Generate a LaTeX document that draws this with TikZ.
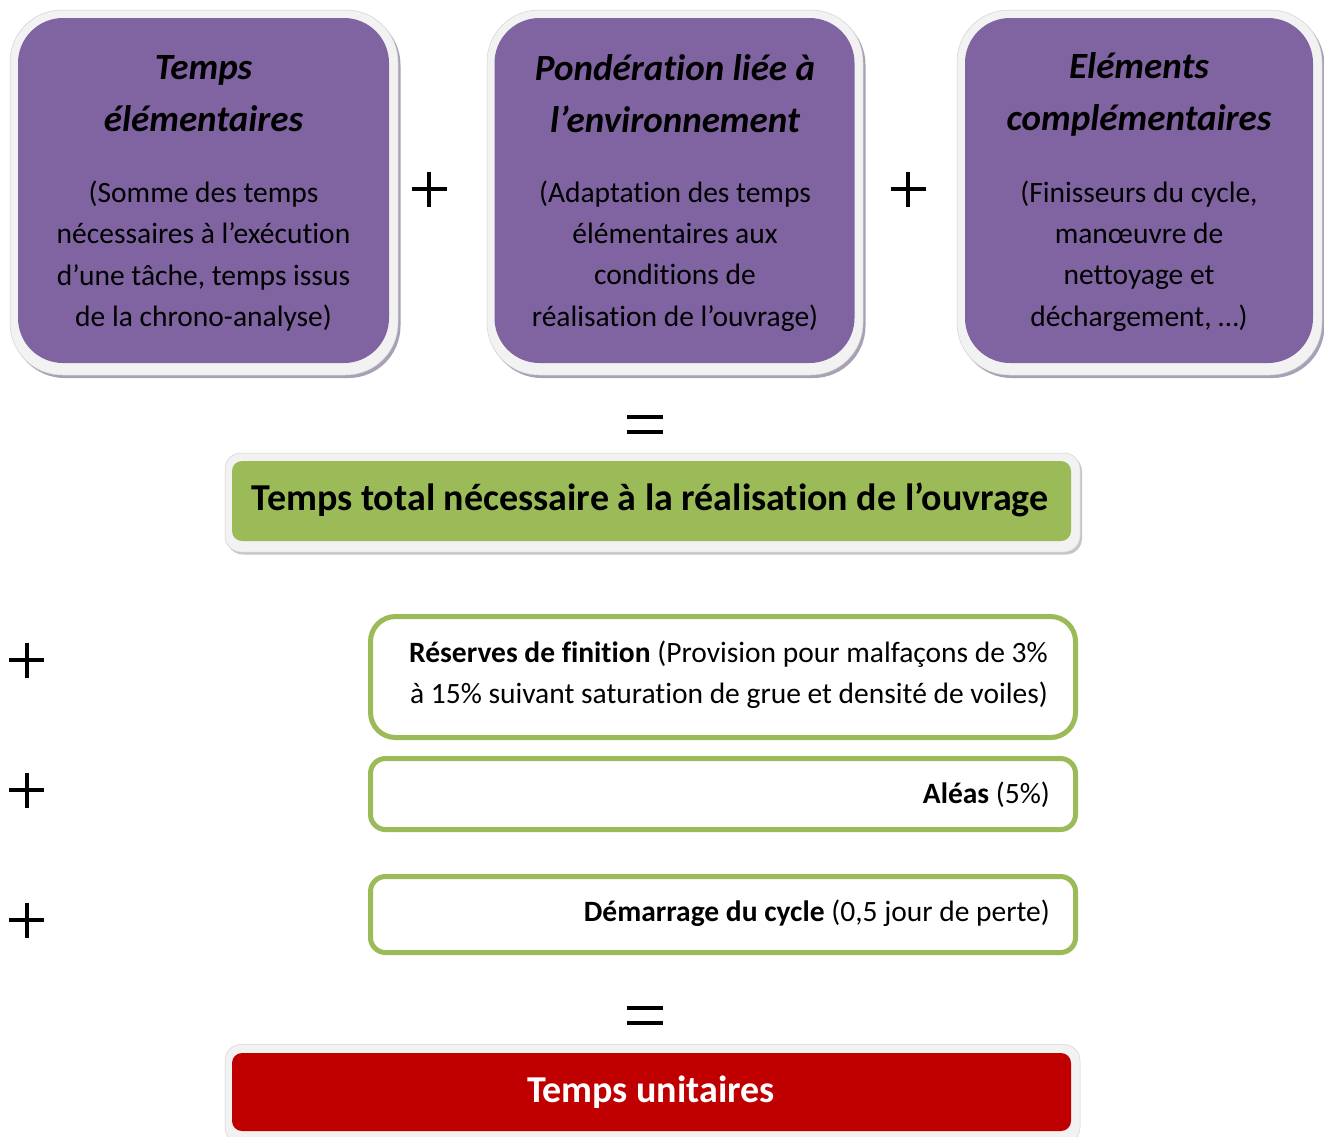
\documentclass[tikz,border=0pt]{standalone}
\usepackage{fontspec}
\setmainfont{Carlito}[Ligatures=NoCommon]
\definecolor{purp}{HTML}{8064A2}
\definecolor{grn}{HTML}{9BBB59}
\definecolor{redc}{HTML}{C00000}
\definecolor{framec}{HTML}{F2F2F2}
\definecolor{shadc}{HTML}{A8A0B4}
\begin{document}
\begin{tikzpicture}[x=1pt,y=-1pt,
  shadowbox/.style={fill=shadc, draw=none, inner sep=0pt},
  framebox/.style={fill=framec, draw=gray!35, line width=0.5pt, inner sep=0pt},
  purplebox/.style={fill=purp, draw=none, rounded corners=45pt, inner sep=0pt},
  ptitle/.style={align=center, font=\fontsize{37}{52}\selectfont\bfseries\itshape},
  pbody/.style={align=center, font=\fontsize{29.5}{41.3}\selectfont},
  opline/.style={line width=4pt, black},
  whitebox/.style={draw=grn, line width=5pt, fill=white, inner sep=0pt},
  wtext/.style={font=\fontsize{29.5}{41}\selectfont, inner sep=0pt},
  bigtext/.style={font=\fontsize{38}{44}\selectfont\bfseries}
]
\useasboundingbox (0,0) rectangle (1324,1136);
\fill[white] (0,0) rectangle (1324,1136);

% purple boxes
\foreach \cx/\ow/\iw/\n in {204/388/371/1, 675/376/360/2, 1139.5/365/348/3}{
  \node[shadowbox, rounded corners=52pt, minimum width=\ow pt, minimum height=365pt] (s\n) at (\cx+2.5,195.5) {};
  \node[framebox, rounded corners=52pt, minimum width=\ow pt, minimum height=365pt] (f\n) at (\cx,192.5) {};
  \node[purplebox, minimum width=\iw pt, minimum height=345pt] (b\n) at (\cx-0.5,190.5) {};
}
\node[ptitle] (t1) at (203.5,94) {Temps\\élémentaires};
\node[pbody] (d1) at (203.5,256) {(Somme des temps\\nécessaires à l’exécution\\d’une tâche, temps issus\\de la chrono-analyse)};
\node[ptitle] (t2) at (675,94) {Pondération liée à\\l’environnement};
\node[pbody] (d2) at (675,256) {(Adaptation des temps\\élémentaires aux\\conditions de\\réalisation de l’ouvrage)};
\node[ptitle] (t3) at (1139,94) {Eléments\\complémentaires};
\node[pbody] (d3) at (1139,256) {(Finisseurs du cycle,\\manœuvre de\\nettoyage et\\déchargement, …)};

% operators
\coordinate (p1) at (429,189);
\coordinate (p2) at (908,189);
\coordinate (e1) at (645,424.5);
\coordinate (p3) at (26.5,660);
\coordinate (p4) at (26.5,790);
\coordinate (p5) at (26.5,920);
\coordinate (e2) at (645,1015);
\foreach \p in {p1,p2,p3,p4,p5}{
  \draw[opline] (\p) ++(-17.5,0) -- ++(35,0);
  \draw[opline] (\p) ++(0,-17.5) -- ++(0,35);
}
\foreach \e in {e1,e2}{
  \draw[opline] (\e) ++(-18,-7.5) -- ++(36,0);
  \draw[opline] (\e) ++(-18,7.5) -- ++(36,0);
}

% green box
\node[shadowbox, fill=gray!45, rounded corners=16pt, minimum width=855pt, minimum height=99pt] (gs) at (654.5,505) {};
\node[framebox, rounded corners=16pt, minimum width=855pt, minimum height=99pt] (gf) at (652.5,502.5) {};
\node[fill=grn, rounded corners=10pt, minimum width=839pt, minimum height=80pt, inner sep=0pt] (g) at (651.5,501) {};
\node[bigtext] (gt) at (650,500) {Temps total nécessaire à la réalisation de l’ouvrage};

% white boxes
\node[whitebox, rounded corners=25pt, minimum width=705pt, minimum height=121pt] (wa) at (723,677) {};
\node[whitebox, rounded corners=15pt, minimum width=705pt, minimum height=71pt] (wb) at (723,794) {};
\node[whitebox, rounded corners=15pt, minimum width=705pt, minimum height=76pt] (wc) at (723,914.5) {};
\node[wtext, align=right, anchor=east] (ta) at (1048,675) {\textbf{Réserves de finition} (Provision pour malfaçons de 3\%\\à 15\% suivant saturation de grue et densité de voiles)};
\node[wtext, anchor=east] (tb) at (1050,795) {\textbf{Aléas} (5\%)};
\node[wtext, anchor=east] (tc) at (1050,913) {\textbf{Démarrage du cycle} (0,5 jour de perte)};

% red box
\node[framebox, rounded corners=16pt, minimum width=855pt, minimum height=99pt] (rf) at (652.5,1094) {};
\node[fill=redc, rounded corners=10pt, minimum width=839pt, minimum height=78pt, inner sep=0pt] (r) at (651.5,1092) {};
\node[bigtext, text=white] (rt) at (651,1092) {Temps unitaires};
\end{tikzpicture}
\end{document}
